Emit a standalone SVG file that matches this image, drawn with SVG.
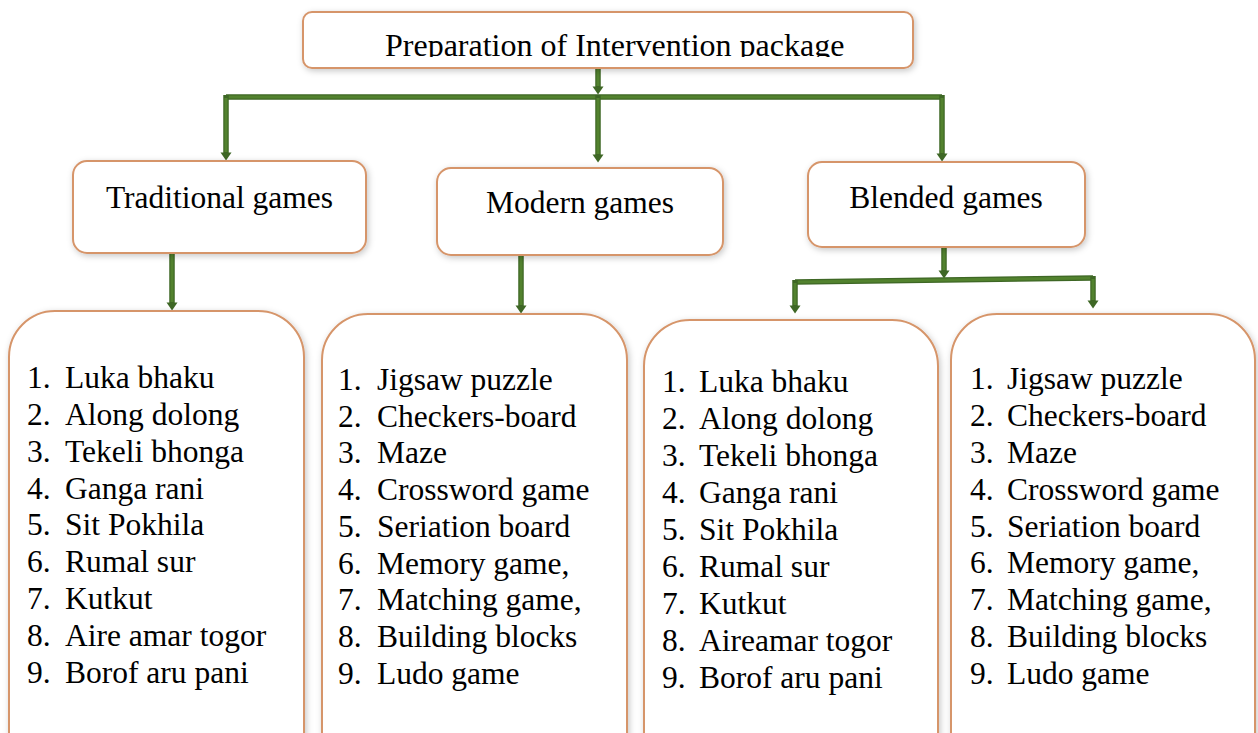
<svg xmlns="http://www.w3.org/2000/svg" width="1258" height="733" viewBox="0 0 1258 733">
  <defs>
    <style>
      .box { fill: #ffffff; stroke: #d6956a; stroke-width: 2; filter: url(#shadow); }
      .label { font-family: "Liberation Serif", "Times New Roman", serif; font-size: 31.5px; fill: #000000; }
      .title { font-family: "Liberation Serif", "Times New Roman", serif; font-size: 32px; fill: #000000; }
      .wire { fill: none; stroke: #3e6725; stroke-width: 5.5; marker-end: url(#head); }
      .wire-in { fill: none; stroke: #52822e; stroke-width: 3; }
    </style>
    <filter id="shadow" x="-10%" y="-10%" width="120%" height="130%">
      <feDropShadow dx="1.5" dy="2" stdDeviation="3" flood-color="#000000" flood-opacity="0.22"/>
    </filter>
    <marker id="head" markerUnits="userSpaceOnUse" markerWidth="14" markerHeight="14" viewBox="0 -7 10 14" refX="0.5" refY="0" orient="auto">
      <path d="M0,-5.5 L8,0 L0,5.5 z" fill="#3e6725"/>
    </marker>
    <clipPath id="titleClip">
      <rect x="303" y="12" width="610" height="45"/>
    </clipPath>
  </defs>

  <!-- connectors -->
  <g id="connectors">
    <path class="wire" d="M598,68 V87"/>
    <path class="wire-in" d="M598,69 V86"/>
    <path class="wire" d="M226,97 H942" style="marker-end:none"/>
    <path class="wire-in" d="M226,97 H942"/>
    <path class="wire" d="M226,95 V153"/>
    <path class="wire-in" d="M226,98 V152"/>
    <path class="wire" d="M598,95 V155"/>
    <path class="wire-in" d="M598,98 V154"/>
    <path class="wire" d="M942,95 V154"/>
    <path class="wire-in" d="M942,98 V153"/>
    <path class="wire" d="M172,253 V303"/>
    <path class="wire-in" d="M172,254 V302"/>
    <path class="wire" d="M521,248 V306"/>
    <path class="wire-in" d="M521,249 V305"/>
    <path class="wire" d="M944,247 V271"/>
    <path class="wire-in" d="M944,248 V270"/>
    <path class="wire" d="M795,282 L1093,278" style="marker-end:none"/>
    <path class="wire-in" d="M795,282 L1093,278"/>
    <path class="wire" d="M795,280 V306"/>
    <path class="wire-in" d="M795,283 V305"/>
    <path class="wire" d="M1093,276 V301"/>
    <path class="wire-in" d="M1093,279 V300"/>
  </g>

  <!-- root -->
  <g id="node-root">
    <rect class="box" x="303" y="12" width="610" height="56" rx="9"/>
    <text class="title" x="385" y="56" clip-path="url(#titleClip)">Preparation of Intervention package</text>
  </g>

  <!-- categories -->
  <g id="node-traditional">
    <rect class="box" x="73" y="161" width="293" height="92" rx="14"/>
    <text class="label" x="219.5" y="208" text-anchor="middle">Traditional games</text>
  </g>
  <g id="node-modern">
    <rect class="box" x="437" y="168" width="286" height="87" rx="14"/>
    <text class="label" x="580" y="213" text-anchor="middle">Modern games</text>
  </g>
  <g id="node-blended">
    <rect class="box" x="808" y="162" width="277" height="85" rx="14"/>
    <text class="label" x="946" y="208" text-anchor="middle">Blended games</text>
  </g>

  <!-- game lists -->
  <g id="list-traditional">
    <rect class="box" x="9" y="311" width="295" height="470" rx="46"/>
    <text class="label">
      <tspan x="27" y="388">1.</tspan><tspan x="65" y="388">Luka bhaku</tspan>
      <tspan x="27" y="425">2.</tspan><tspan x="65" y="425">Along dolong</tspan>
      <tspan x="27" y="462">3.</tspan><tspan x="65" y="462">Tekeli bhonga</tspan>
      <tspan x="27" y="499">4.</tspan><tspan x="65" y="499">Ganga rani</tspan>
      <tspan x="27" y="535">5.</tspan><tspan x="65" y="535">Sit Pokhila</tspan>
      <tspan x="27" y="572">6.</tspan><tspan x="65" y="572">Rumal sur</tspan>
      <tspan x="27" y="609">7.</tspan><tspan x="65" y="609">Kutkut</tspan>
      <tspan x="27" y="646">8.</tspan><tspan x="65" y="646">Aire amar togor</tspan>
      <tspan x="27" y="683">9.</tspan><tspan x="65" y="683">Borof aru pani</tspan>
    </text>
  </g>

  <g id="list-modern">
    <rect class="box" x="322" y="314" width="305" height="470" rx="46"/>
    <text class="label">
      <tspan x="338" y="390">1.</tspan><tspan x="377" y="390">Jigsaw puzzle</tspan>
      <tspan x="338" y="427">2.</tspan><tspan x="377" y="427">Checkers-board</tspan>
      <tspan x="338" y="463">3.</tspan><tspan x="377" y="463">Maze</tspan>
      <tspan x="338" y="500">4.</tspan><tspan x="377" y="500">Crossword game</tspan>
      <tspan x="338" y="537">5.</tspan><tspan x="377" y="537">Seriation board</tspan>
      <tspan x="338" y="574">6.</tspan><tspan x="377" y="574">Memory game,</tspan>
      <tspan x="338" y="610">7.</tspan><tspan x="377" y="610">Matching game,</tspan>
      <tspan x="338" y="647">8.</tspan><tspan x="377" y="647">Building blocks</tspan>
      <tspan x="338" y="684">9.</tspan><tspan x="377" y="684">Ludo game</tspan>
    </text>
  </g>

  <g id="list-blended-traditional">
    <rect class="box" x="644" y="320" width="294" height="470" rx="46"/>
    <text class="label">
      <tspan x="662" y="392">1.</tspan><tspan x="699" y="392">Luka bhaku</tspan>
      <tspan x="662" y="429">2.</tspan><tspan x="699" y="429">Along dolong</tspan>
      <tspan x="662" y="466">3.</tspan><tspan x="699" y="466">Tekeli bhonga</tspan>
      <tspan x="662" y="503">4.</tspan><tspan x="699" y="503">Ganga rani</tspan>
      <tspan x="662" y="540">5.</tspan><tspan x="699" y="540">Sit Pokhila</tspan>
      <tspan x="662" y="577">6.</tspan><tspan x="699" y="577">Rumal sur</tspan>
      <tspan x="662" y="614">7.</tspan><tspan x="699" y="614">Kutkut</tspan>
      <tspan x="662" y="651">8.</tspan><tspan x="699" y="651">Aireamar togor</tspan>
      <tspan x="662" y="688">9.</tspan><tspan x="699" y="688">Borof aru pani</tspan>
    </text>
  </g>

  <g id="list-blended-modern">
    <rect class="box" x="951" y="314" width="304" height="470" rx="46"/>
    <text class="label">
      <tspan x="970" y="389">1.</tspan><tspan x="1007" y="389">Jigsaw puzzle</tspan>
      <tspan x="970" y="426">2.</tspan><tspan x="1007" y="426">Checkers-board</tspan>
      <tspan x="970" y="463">3.</tspan><tspan x="1007" y="463">Maze</tspan>
      <tspan x="970" y="500">4.</tspan><tspan x="1007" y="500">Crossword game</tspan>
      <tspan x="970" y="537">5.</tspan><tspan x="1007" y="537">Seriation board</tspan>
      <tspan x="970" y="573">6.</tspan><tspan x="1007" y="573">Memory game,</tspan>
      <tspan x="970" y="610">7.</tspan><tspan x="1007" y="610">Matching game,</tspan>
      <tspan x="970" y="647">8.</tspan><tspan x="1007" y="647">Building blocks</tspan>
      <tspan x="970" y="684">9.</tspan><tspan x="1007" y="684">Ludo game</tspan>
    </text>
  </g>
</svg>
